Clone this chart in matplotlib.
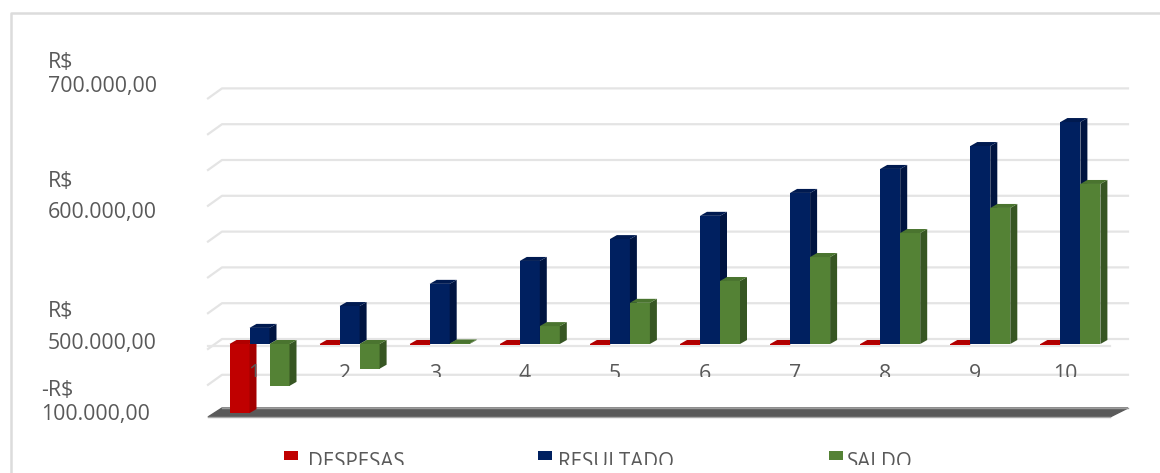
import matplotlib
matplotlib.use('Agg')
import matplotlib.pyplot as plt
from matplotlib.patches import Rectangle
from matplotlib.transforms import Bbox

plt.rcParams['font.family'] = ['Open Sans', 'DejaVu Sans']

categorias = [1, 2, 3, 4, 5, 6, 7, 8, 9, 10]
despesas = [-193000, -1500, -1500, -1500, -1500, -1500, -1500, -1500, -1500, -1500]
resultado = [45000, 106000, 168000, 232000, 293000, 358000, 422000, 489000, 553000, 620000]
saldo = [-117000, -69000, 1500, 50000, 115000, 176000, 243000, 310000, 380000, 447000]
ticks_y = ['R$\n700.000,00', 'R$\n600.000,00', 'R$\n500.000,00', '-R$\n100.000,00']
nomes = ['DESPESAS', 'RESULTADO', 'SALDO']

W, H = 1160, 473
PX_X = 90.1     # pixels por categoria
PX_Y = 35.8 / 100000
X1 = 259.5      # centro da barra azul na categoria 1
Y0 = 344        # linha do zero
CINZA = '#595959'


def dx(px):
    return px / PX_X


def dy(px):
    return px / PX_Y


fig = plt.figure(figsize=(W / 100, H / 100), dpi=100)
ax = fig.add_axes([0, 0, 1, 1])
ax.set_xlim(1 - X1 / PX_X, 1 + (W - X1) / PX_X)
ax.set_ylim((Y0 - H) / PX_Y, Y0 / PX_Y)
ax.axis('off')

# moldura
fig.add_artist(plt.Line2D([10.5 / W, 10.5 / W, 1], [0, 1 - 13.5 / H, 1 - 13.5 / H], color='#dcdcdc', lw=1.8))

# linhas de grade
x_esq = 1 + (208 - X1) / PX_X
x_fundo = 1 + (222 - X1) / PX_X
x_dir = 1 + (1128 - X1) / PX_X
for k in range(-1, 8):
    v = k * 100000 + dy(5)
    ax.plot([x_esq, x_fundo, x_dir], [v - dy(10), v, v], color='#e4e4e4', lw=1.6, zorder=1)
ax.plot([x_esq, x_dir - dx(18)], [-dy(2), -dy(2)], color='#e6e6e6', lw=1.6, zorder=1)

# piso escuro, com as bordas mais claras
piso_y = (Y0 - 408) / PX_Y
ax.fill([x_esq, x_fundo, x_dir, x_dir - dx(18), x_esq],
        [piso_y - dy(9), piso_y, piso_y, piso_y - dy(9), piso_y - dy(9)], color='#5a5a5a', zorder=1)
ax.plot([x_fundo, x_dir], [piso_y, piso_y], color='#9a9a9a', lw=1, zorder=1)
ax.plot([x_esq, x_dir - dx(18)], [piso_y - dy(9), piso_y - dy(9)], color='#a8a8a8', lw=1, zorder=1)


def barra3d(c, v, desloc, frente, topo, lado):
    x0 = c + dx(desloc) - dx(10)
    x1 = c + dx(desloc) + dx(10)
    ox, oy = dx(7), dy(4)
    alto = max(v, 0)
    baixo = min(v, 0)
    ax.bar(x0, v, width=x1 - x0, align='edge', color=frente, zorder=3)
    ax.fill([x1, x1 + ox, x1 + ox, x1], [baixo, baixo + oy, alto + oy, alto], color=lado, lw=0, zorder=3)
    ax.fill([x0, x0 + ox, x1 + ox, x1], [alto, alto + oy, alto + oy, alto], color=topo, lw=0, zorder=3)


for c, d, r, s in zip(categorias, despesas, resultado, saldo):
    barra3d(c, d, -20, '#c00000', '#b00000', '#a30000')
    barra3d(c, r, 0, '#002060', '#001a50', '#001440')
    barra3d(c, s, 20, '#548235', '#4a742f', '#375623')

# rótulos das categorias, cortados pela linha de grade
corte_cat = Bbox([[0, H - 376.5], [W, H - 355]])
for c in categorias:
    t = ax.text(c - dx(5), (Y0 - 380) / PX_Y, str(c), ha='center', va='baseline', fontsize=15.3, color=CINZA, zorder=4)
    t.set_clip_box(corte_cat)
    t.set_clip_on(True)

# rótulos do eixo y, linha a linha
pos_ticks = [(48, 68, 92), (48, 187, 218), (48, 317, 349), (41, 396, 420)]
for texto, (px, py1, py2) in zip(ticks_y, pos_ticks):
    l1, l2 = texto.split('\n')
    fig.text(px / W, 1 - py1 / H, l1, ha='left', va='baseline', fontsize=15.3, color=CINZA)
    fig.text(px / W, 1 - py2 / H, l2, ha='left', va='baseline', fontsize=15.3, color=CINZA)

# legenda, cortada na parte de baixo
corte_leg = Bbox([[0, H - 464.5], [W, H - 440]])
cores = ['#c00000', '#002060', '#548235']
for nome, cor, px, px_txt in zip(nomes, cores, [284, 538, 829], [308, 558, 847]):
    fig.add_artist(Rectangle((px / W, 1 - 460 / H), 14 / W, 9 / H, color=cor, lw=0, transform=fig.transFigure))
    t = fig.text(px_txt / W, 1 - 468 / H, nome, ha='left', va='baseline', fontsize=14.8, color=CINZA)
    t.set_clip_box(corte_leg)
    t.set_clip_on(True)

fig.savefig('out.png', dpi=100)
